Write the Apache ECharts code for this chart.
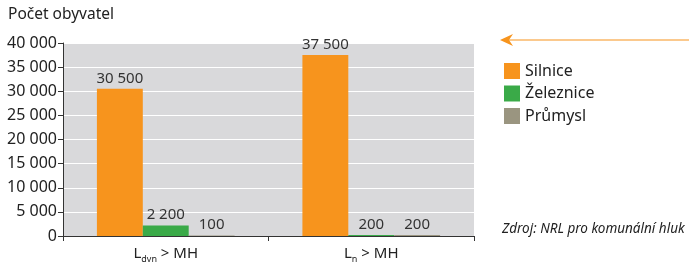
<!DOCTYPE html>
<html><head><meta charset="utf-8">
<script src="https://cdn.jsdelivr.net/npm/echarts@6/dist/echarts.min.js"></script>
<style>html,body{margin:0;padding:0;background:#fff}#c{width:689px;height:265px}</style>
</head><body><div id="c"></div>
<script>
const categories = ['L{sub|dvn} > MH', 'L{sub|n} > MH'];
const seriesNames = ['Silnice', 'Železnice', 'Průmysl'];
const silnice = [30500, 37500];
const zeleznice = [2200, 200];
const prumysl = [100, 200];
const yTicks = [0, 5000, 10000, 15000, 20000, 25000, 30000, 35000, 40000];
const colors = ['#f7941d', '#3aaa48', '#9a9580'];
const FONT = 'Noto Sans';
const fmt = v => String(v).replace(/\B(?=(\d{3})+(?!\d))/g, ' ');
const chart = echarts.init(document.getElementById('c'));
const values = [silnice, zeleznice, prumysl];
chart.setOption({
  animation: false,
  textStyle: { fontFamily: FONT },
  title: { text: 'Počet obyvatel', left: 3, top: 2, textStyle: { fontFamily: FONT, fontSize: 15.5, fontWeight: 'normal', color: '#222' } },
  grid: { left: 63, right: 215, top: 43, bottom: 29, show: true, backgroundColor: '#d9d9db', borderWidth: 0 },
  legend: {
    orient: 'vertical', left: 499, top: 58, itemWidth: 16, itemHeight: 16, itemGap: 6.5, icon: 'rect',
    textStyle: { fontFamily: FONT, fontSize: 16, color: '#222' },
    data: seriesNames
  },
  xAxis: {
    type: 'category', data: categories,
    axisLine: { lineStyle: { color: '#333' } },
    axisTick: { show: true, length: 5, lineStyle: { color: '#333' } },
    axisLabel: { color: '#222', fontSize: 15, margin: 7,
      rich: { sub: { fontSize: 9, verticalAlign: 'bottom', padding: [12, 0, 0, 0], color: '#222' } } }
  },
  yAxis: {
    type: 'value', min: 0, max: 40000, interval: 5000,
    axisLine: { show: true, lineStyle: { color: '#333' } },
    axisTick: { show: true, length: 5, lineStyle: { color: '#333' } },
    splitLine: { lineStyle: { color: '#fff', width: 1 } },
    axisLabel: { color: '#222', fontSize: 16, margin: 6, formatter: v => yTicks.includes(v) ? fmt(v) : '' }
  },
  graphic: [
    { type: 'line', shape: { x1: 506, y1: 40, x2: 689, y2: 40 }, style: { stroke: '#f7941d', lineWidth: 1.2 } },
    { type: 'polygon', shape: { points: [[500, 40], [513, 34], [509, 40], [513, 46]] }, style: { fill: '#f7941d' } },
    { type: 'text', left: 502, top: 222, style: { text: 'Zdroj: NRL pro komunální hluk', font: 'italic 13.5px "' + FONT + '"', fill: '#222' } }
  ],
  series: seriesNames.map((n, i) => ({
    name: n, type: 'bar', data: values[i], barGap: '0%', barCategoryGap: '33%',
    itemStyle: { color: colors[i] },
    label: { show: true, position: 'top', distance: 3, fontSize: 15, color: '#333', formatter: p => fmt(p.value) }
  }))
});
</script></body></html>
